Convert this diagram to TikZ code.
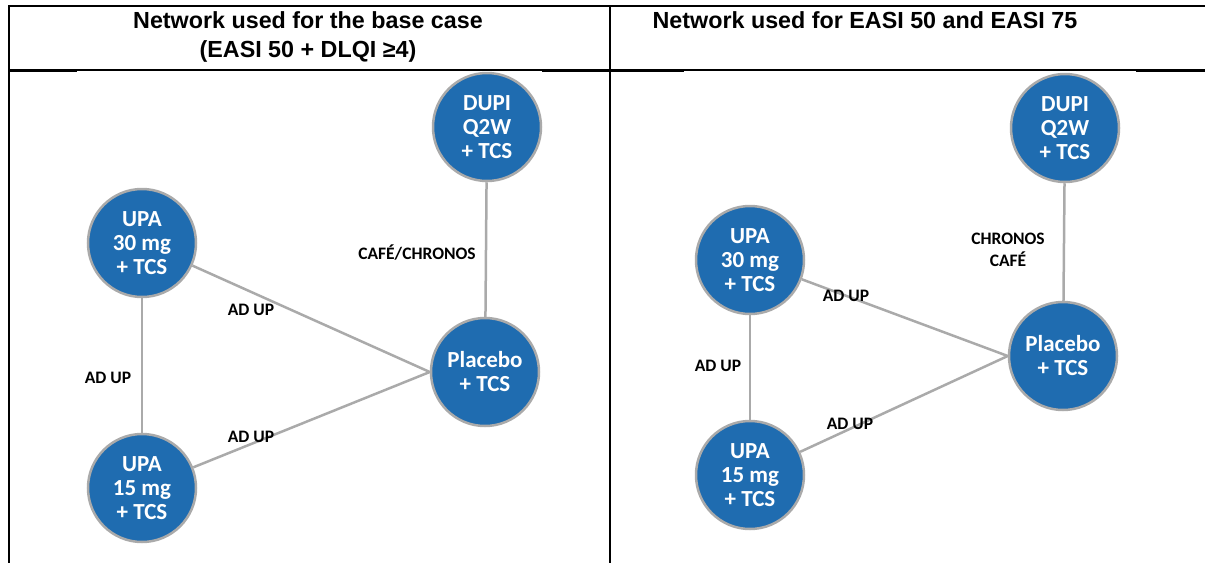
\documentclass[tikz,border=0pt]{standalone}
\usepackage{fontspec}
\setmainfont{Liberation Sans}
\newfontfamily\calfont{Carlito}
\usetikzlibrary{backgrounds}
\definecolor{nodeblue}{RGB}{31,108,176}
\definecolor{rimgray}{RGB}{170,170,170}
\definecolor{edgegray}{RGB}{170,170,170}
\tikzset{
  trt/.style={circle, minimum size=108pt, inner sep=0pt, fill=nodeblue, draw=rimgray, line width=2.5pt,
    text=white, align=center, font=\calfont\bfseries\fontsize{23}{24}\selectfont},
  link/.style={draw=edgegray, line width=2.5pt},
  elab/.style={font=\calfont\bfseries\fontsize{17.5}{22}\selectfont, align=center, text=black, inner sep=0pt},
  hdr/.style={font=\bfseries\fontsize{23.3}{28}\selectfont, align=center, inner sep=0pt},
  rule/.style={line width=2pt, black}
}
\begin{document}
\begin{tikzpicture}[x=1pt,y=-1pt]
\useasboundingbox (0,0) rectangle (1205,563);
% table rules
\draw[rule] (8,6) -- (1205,6);
\draw[rule] (8.5,5) -- (8.5,563);
\draw[rule] (609.5,5) -- (609.5,563);
\draw[line width=1.5pt] (8,70) -- (1205,70);
\draw[line width=2pt] (8,71) -- (77,71);
\draw[line width=2pt] (542,71) -- (684,71);
\draw[line width=2pt] (1136,71) -- (1205,71);
% headers
\node[hdr, anchor=base] (h1) at (308,28) {Network used for the base case};
\node[hdr, anchor=base] (h1b) at (308,57) {(EASI 50 + DLQI ≥4)};
\node[hdr, anchor=base] (h2) at (865,28) {Network used for EASI 50 and EASI 75};
% left network
\node[trt] (ldupi) at (487,127) {DUPI\\Q2W\\+ TCS};
\node[trt] (lpla) at (485,372) {Placebo\\+ TCS};
\node[trt] (lu30) at (142,243) {UPA\\30 mg\\+ TCS};
\node[trt] (lu15) at (142,488) {UPA\\15 mg\\+ TCS};
\begin{scope}[on background layer]
\draw[link] (ldupi) -- (lpla);
\draw[link] (lu30) -- (lu15);
\draw[link] (lu30) -- (lpla.west);
\draw[link] (lu15) -- (lpla.west);
\end{scope}
\node[elab] (lc) at (417,253) {CAFÉ/CHRONOS};
\node[elab] (la1) at (251,310) {AD UP};
\node[elab] (la2) at (108,378) {AD UP};
\node[elab] (la3) at (251,437) {AD UP};
% right network
\node[trt] (rdupi) at (1065,128) {DUPI\\Q2W\\+ TCS};
\node[trt] (rpla) at (1063,356) {Placebo\\+ TCS};
\node[trt] (ru30) at (750,260) {UPA\\30 mg\\+ TCS};
\node[trt] (ru15) at (750,475) {UPA\\15 mg\\+ TCS};
\begin{scope}[on background layer]
\draw[link] (rdupi) -- (rpla);
\draw[link] (ru30) -- (ru15);
\draw[link] (ru30) -- (rpla.west);
\draw[link] (ru15) -- (rpla.west);
\end{scope}
\node[elab] (rc) at (1008,250) {CHRONOS\\CAFÉ};
\node[elab] (ra1) at (846,296) {AD UP};
\node[elab] (ra2) at (718,366) {AD UP};
\node[elab] (ra3) at (850,424) {AD UP};
\end{tikzpicture}
\end{document}
